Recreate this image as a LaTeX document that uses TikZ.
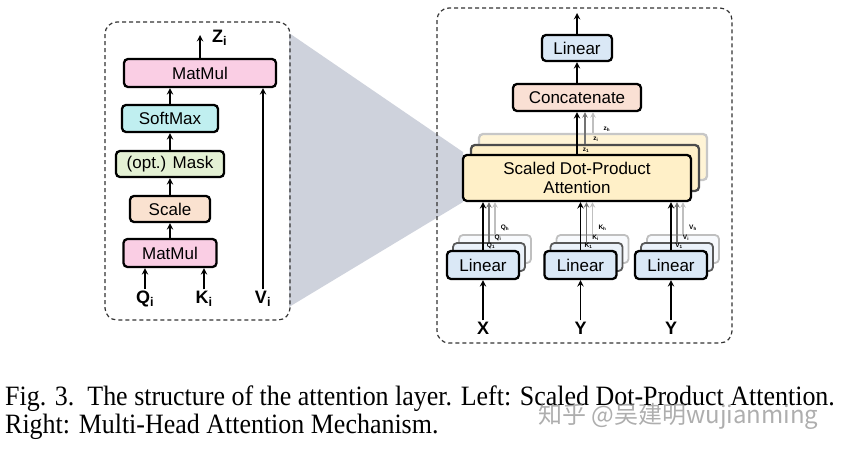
\documentclass[tikz,border=0pt]{standalone}
\usepackage{fontspec}
\setmainfont{Liberation Sans}
\newfontfamily\capfont{Liberation Serif}
\newfontfamily\cjkfont{Noto Sans CJK SC}
\usetikzlibrary{arrows}

\definecolor{mmpink}{RGB}{250,206,228}
\definecolor{smcyan}{RGB}{192,239,240}
\definecolor{mkgreen}{RGB}{228,241,212}
\definecolor{scpeach}{RGB}{250,226,208}
\definecolor{lnblue}{RGB}{218,232,246}
\definecolor{ctsalmon}{RGB}{250,224,212}
\definecolor{sdyellow}{RGB}{255,240,200}
\definecolor{zoomgray}{RGB}{206,210,220}

\begin{document}
\begin{tikzpicture}[x=1pt, y=-1pt,
      box/.style={rectangle, draw, line width=2.3pt, rounded corners=4pt,
                  inner sep=0pt, align=center,
                  font=\fontsize{17}{19}\selectfont},
      mm/.style={box, fill=mmpink},
      sm/.style={box, fill=smcyan},
      mk/.style={box, fill=mkgreen},
      sc/.style={box, fill=scpeach},
      ln/.style={box, fill=lnblue, minimum width=72, minimum height=28},
      lnB/.style={ln, fill=lnblue!55, draw=black!65, line width=1.8pt},
      lnC/.style={ln, fill=lnblue!20, draw=black!25, line width=1.8pt},
      ct/.style={box, fill=ctsalmon},
      sd/.style={box, fill=sdyellow, minimum width=228, minimum height=46},
      sdB/.style={sd, draw=black!70},
      sdC/.style={sd, fill=sdyellow!75, draw=black!22},
      frame/.style={draw=black!80, line width=1.2pt, rounded corners=12pt,
                    dash pattern=on 4pt off 3pt},
      arr/.style={->, >=stealth, line width=1.8pt},
      arrB/.style={arr, line width=1.4pt, draw=black!55},
      arrC/.style={arr, line width=1.4pt, draw=black!25},
      inp/.style={font=\bfseries\fontsize{18}{20}\selectfont, inner sep=1pt},
      tiny/.style={font=\bfseries\fontsize{6.5}{7}\selectfont, inner sep=0pt},
    ]
    \useasboundingbox (0,0) rectangle (841,450);

    % Zoom wedge between the two panels
    \fill[zoomgray] (289,33) -- (463,152) -- (463,202) -- (289,307) -- cycle;

    % Dashed panels
    \draw[frame] (105,22) rectangle (290,320);
    \draw[frame] (437,8) rectangle (732,343);

    % Left: scaled dot-product attention
    \node[mm, minimum width=152, minimum height=28] (mmtop) at (200,73) {MatMul};
    \node[sm, minimum width=96, minimum height=27] (soft) at (170,118.5) {SoftMax};
    \node[mk, minimum width=108, minimum height=26] (mask) at (170,164) {(opt.) Mask};
    \node[sc, minimum width=80, minimum height=26] (scale) at (170,209) {Scale};
    \node[mm, minimum width=93, minimum height=28] (mmbot) at (170,253) {MatMul};

    \node[inp, anchor=base] (qi) at (145,303) {Q\textsubscript{i}};
    \node[inp, anchor=base] (ki) at (204,303) {K\textsubscript{i}};
    \node[inp, anchor=base] (vi) at (263,303) {V\textsubscript{i}};
    \coordinate (zout) at (200,35);
    \node[inp, anchor=base west] (zi) at (211,42) {Z\textsubscript{i}};

    \draw[arr] (qi) -- (qi |- mmbot.south);
    \draw[arr] (ki) -- (ki |- mmbot.south);
    \draw[arr] (vi) -- (vi |- mmtop.south);
    \draw[arr] (mmbot) -- (scale);
    \draw[arr] (scale) -- (mask);
    \draw[arr] (mask) -- (soft);
    \draw[arr] (soft.north) -- (soft.north |- mmtop.south);
    \draw[arr] (mmtop) -- (zout);

    % Right: multi-head attention
    \node[ln, minimum width=70, minimum height=26] (lintop) at (577,48) {Linear};
    \node[ct, minimum width=128, minimum height=27] (cat) at (577,97.5) {Concatenate};
    \node[sdC] (sdpaC) at (593,157) {};
    \node[sdB] (sdpaB) at (585,168) {};
    \node[sd] (sdpa) at (577,178) {Scaled Dot-Product\\Attention};
    \coordinate (out) at (577,13);

    \draw[arr] (lintop) -- (out);
    \draw[arr] (cat) -- (lintop);
    \draw[arr] (sdpa) -- (cat);
    \draw[arrB] (sdpaB.north) -- (sdpaB.north |- cat.south);
    \draw[arrC] (sdpaC.north) -- (sdpaC.north |- cat.south);
    \node[tiny] (z1) at (586,150) {z\textsubscript{1}};
    \node[tiny] (zi2) at (596,139) {z\textsubscript{i}};
    \node[tiny] (zh) at (607,129) {z\textsubscript{h}};

    % Linear heads for Q
    \node[lnC] (lqC) at (495,249) {};
    \node[lnB] (lqB) at (489,257) {};
    \node[ln] (lq) at (483,265) {Linear};
    \node[inp, anchor=base] (x) at (483,334) {X};
    \draw[arr] (x) -- (lq);
    \draw[arr] (lq) -- (lq |- sdpa.south);
    \draw[arrB] (lqB.north) -- (lqB.north |- sdpa.south);
    \draw[arrC] (lqC.north) -- (lqC.north |- sdpa.south);
    \node[tiny] (q1) at (491,246) {Q\textsubscript{1}};
    \node[tiny] (qi2) at (498,238) {Q\textsubscript{i}};
    \node[tiny] (qh) at (505,228) {Q\textsubscript{h}};

    % Linear heads for K
    \node[lnC] (lkC) at (592.5,249) {};
    \node[lnB] (lkB) at (586.5,257) {};
    \node[ln] (lk) at (580.5,265) {Linear};
    \node[inp, anchor=base] (y1) at (580.5,334) {Y};
    \draw[arr] (y1) -- (lk);
    \draw[arr] (lk) -- (lk |- sdpa.south);
    \draw[arrB] (lkB.north) -- (lkB.north |- sdpa.south);
    \draw[arrC] (lkC.north) -- (lkC.north |- sdpa.south);
    \node[tiny] (k1) at (588.5,246) {K\textsubscript{1}};
    \node[tiny] (ki2) at (595.5,238) {K\textsubscript{i}};
    \node[tiny] (kh) at (602.5,228) {K\textsubscript{h}};

    % Linear heads for V
    \node[lnC] (lvC) at (683,249) {};
    \node[lnB] (lvB) at (677,257) {};
    \node[ln] (lv) at (671,265) {Linear};
    \node[inp, anchor=base] (y2) at (671,334) {Y};
    \draw[arr] (y2) -- (lv);
    \draw[arr] (lv) -- (lv |- sdpa.south);
    \draw[arrB] (lvB.north) -- (lvB.north |- sdpa.south);
    \draw[arrC] (lvC.north) -- (lvC.north |- sdpa.south);
    \node[tiny] (v1) at (679,246) {V\textsubscript{1}};
    \node[tiny] (vi2) at (686,238) {V\textsubscript{i}};
    \node[tiny] (vh) at (693,228) {V\textsubscript{h}};

    % Caption and watermark
    \node[anchor=base west, inner sep=0pt] (cap1) at (5,405)
      {\capfont\fontsize{28}{28}\selectfont\scalebox{0.927}[1]{Fig. 3.\ \ The structure of the attention layer. Left: Scaled Dot-Product Attention.}};
    \node[anchor=base west, inner sep=0pt] (cap2) at (5,433)
      {\capfont\fontsize{28}{28}\selectfont\scalebox{0.927}[1]{Right: Multi-Head Attention Mechanism.}};
    \node[anchor=base west, inner sep=0pt, text=black!45, opacity=0.7] (mark) at (538,423)
      {\cjkfont\fontsize{24}{24}\selectfont 知乎 @吴建明wujianming};

    \end{tikzpicture}
\end{document}
